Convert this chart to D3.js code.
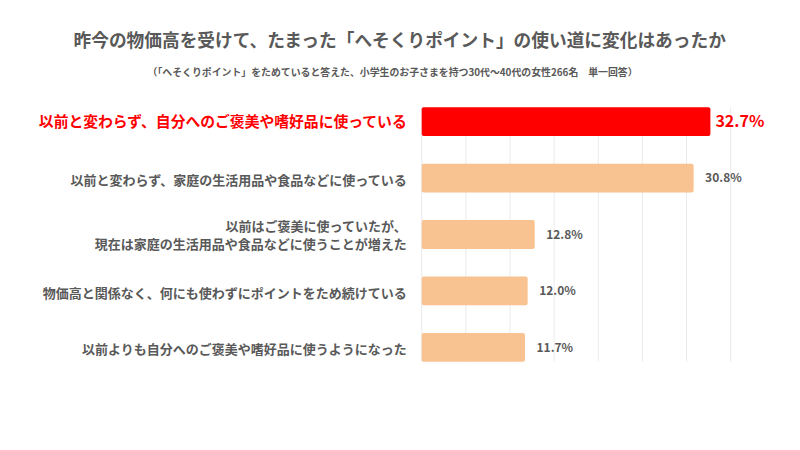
<!DOCTYPE html>
<html>
<head>
<meta charset="utf-8">
<script src="https://cdn.jsdelivr.net/npm/d3@7"></script>
<style>
  html, body { margin: 0; padding: 0; background: #fff; }
  svg { display: block; }
  text { font-family: "Noto Sans CJK JP", "Noto Sans", sans-serif; }
</style>
</head>
<body>
<svg id="chart" width="800" height="450"></svg>
<script>
const title = "昨今の物価高を受けて、たまった「へそくりポイント」の使い道に変化はあったか";
const subtitle = "（「へそくりポイント」をためていると答えた、小学生のお子さまを持つ30代～40代の女性266名　単一回答）";
const categories = [
  ["以前と変わらず、自分へのご褒美や嗜好品に使っている"],
  ["以前と変わらず、家庭の生活用品や食品などに使っている"],
  ["以前はご褒美に使っていたが、", "現在は家庭の生活用品や食品などに使うことが増えた"],
  ["物価高と関係なく、何にも使わずにポイントをため続けている"],
  ["以前よりも自分へのご褒美や嗜好品に使うようになった"]
];
const values = [32.7, 30.8, 12.8, 12.0, 11.7];
const highlight = [true, false, false, false, false];
const gridTicks = [0, 5, 10, 15, 20, 25, 30, 35];

const svg = d3.select("#chart");
const x = d3.scaleLinear().domain([0, 35]).range([421.7, 730.7]);
const y = d3.scaleBand().domain(d3.range(values.length)).range([93.5, 375.5]).paddingInner(0.49).paddingOuter(0.245);

// title
svg.append("text").attr("x", 399.7).attr("y", 47).attr("text-anchor", "middle")
  .attr("font-size", 17.7).attr("font-weight", "bold").attr("fill", "#595959").text(title);
svg.append("text").attr("x", 392.5).attr("y", 75.5).attr("text-anchor", "middle")
  .attr("font-size", 9.9).attr("font-weight", "bold").attr("fill", "#595959").text(subtitle);

// gridlines
const yTop = y(0), yBot = y(values.length - 1) + y.bandwidth();
svg.append("g").selectAll("line").data(gridTicks).join("line")
  .attr("x1", d => x(d)).attr("x2", d => x(d))
  .attr("y1", yTop).attr("y2", yBot)
  .attr("stroke", "#ebebeb").attr("stroke-width", 1);

// bars
svg.append("g").selectAll("rect").data(values).join("rect")
  .attr("x", x(0)).attr("y", (d, i) => y(i))
  .attr("width", d => x(d) - x(0)).attr("height", y.bandwidth())
  .attr("rx", 2).attr("ry", 2)
  .attr("fill", (d, i) => highlight[i] ? "#ff0000" : "#f8c291");

// value labels
svg.append("g").selectAll("text").data(values).join("text")
  .attr("x", (d, i) => x(d) + (highlight[i] ? 5 : 11.5))
  .attr("y", (d, i) => y(i) + y.bandwidth() / 2)
  .attr("dy", "0.36em")
  .attr("font-size", (d, i) => highlight[i] ? 16 : 12)
  .attr("font-weight", "bold")
  .attr("fill", (d, i) => highlight[i] ? "#ff0000" : "#595959")
  .text(d => d.toFixed(1) + "%");

// category labels
const lab = svg.append("g").selectAll("text").data(categories).join("text")
  .attr("x", 406.7)
  .attr("y", (d, i) => y(i) + y.bandwidth() / 2 + (highlight[i] ? 0 : (d.length > 1 ? 1 : 2)))
  .attr("text-anchor", "end")
  .attr("font-size", (d, i) => highlight[i] ? 14.8 : 13)
  .attr("font-weight", "bold")
  .attr("fill", (d, i) => highlight[i] ? "#ff0000" : "#595959");
lab.each(function(lines) {
  const t = d3.select(this);
  const n = lines.length;
  lines.forEach((ln, k) => {
    t.append("tspan").attr("x", 406.7)
      .attr("dy", k === 0 ? ((0.36 - (n - 1) * 0.7) + "em") : "1.4em")
      .text(ln);
  });
});
</script>
</body>
</html>
